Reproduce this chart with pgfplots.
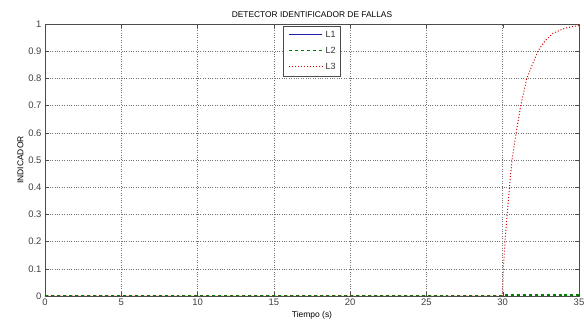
\documentclass[border=0pt]{standalone}
\usepackage{pgfplots}
\pgfplotsset{compat=1.18}
\usepackage{fontspec}
\setmainfont{Liberation Sans}
\definecolor{mblue}{RGB}{30,30,170}
\definecolor{mgreen}{RGB}{0,130,0}
\definecolor{mred}{RGB}{220,0,0}
\newcommand{\legline}[1]{\tikz[baseline=-0.6ex]\draw[#1] (0bp,0bp) -- (33bp,0bp);}
\begin{document}
\begin{tikzpicture}
\begin{axis}[
  scale only axis,
  width=534bp, height=272bp,
  xmin=0, xmax=35, ymin=0, ymax=1,
  xtick={0,5,...,35},
  ytick={0,0.1,...,1},
  yticklabels={0,0.1,0.2,0.3,0.4,0.5,0.6,0.7,0.8,0.9,1},
  tick align=inside,
  major tick length=4bp,
  ticklabel style={font=\fontsize{9.5}{10}\selectfont, text=black!75},
  xticklabel style={yshift=1bp},
  /pgf/number format/assume math mode=true,
  grid=major,
  grid style={dotted, black!55, line width=0.5pt},
  axis line style={black!70, line width=0.6pt},
  tick style={black!70},
  title={\fontsize{8.4}{9}\selectfont DETECTOR IDENTIFICADOR DE FALLAS},
  title style={yshift=-3bp},
  xlabel={\fontsize{8.5}{9}\selectfont Tiempo (s)},
  ylabel={\fontsize{8.5}{9}\selectfont INDICADOR},
  xlabel style={yshift=1bp},
  ylabel style={yshift=-2bp},
]
\addplot[mblue, line width=0.7pt] coordinates {(0,0) (30,0) (35,0)};
\addplot[mgreen, dashed, line width=1.2pt] coordinates {(0,0) (30,0) (30.05,0.004) (35,0.004)};
\addplot[mred, dotted, line width=1.0pt] coordinates {
(0,0) (30,0) (30.04,0.1) (30.15,0.2) (30.29,0.3) (30.44,0.4) (30.61,0.5) (30.88,0.6) (31.18,0.7) (31.58,0.8) (32.30,0.9) (32.8,0.94) (33.3,0.966) (34.0,0.983) (34.5,0.99) (35,0.994)};
\node[anchor=north, draw=black!70, fill=white, inner xsep=5bp, inner ysep=4bp, font=\fontsize{9}{10}\selectfont, text=black!80]
  at (rel axis cs:0.5,0.993) {%
  \begin{tabular}{@{}l@{\hspace{3bp}}l@{}}
  \legline{mblue, solid, line width=0.7pt} & L1\\[6bp]
  \legline{mgreen, dashed, line width=1.2pt} & L2\\[6bp]
  \legline{mred, dotted, line width=1.0pt} & L3
  \end{tabular}};
\end{axis}
\pgfresetboundingbox
\path (current axis.south west)++(-45bp,-26bp) coordinate (bl);
\path (current axis.north east)++(5bp,24bp) coordinate (tr);
\path (bl) rectangle (tr);
\end{tikzpicture}
\end{document}
